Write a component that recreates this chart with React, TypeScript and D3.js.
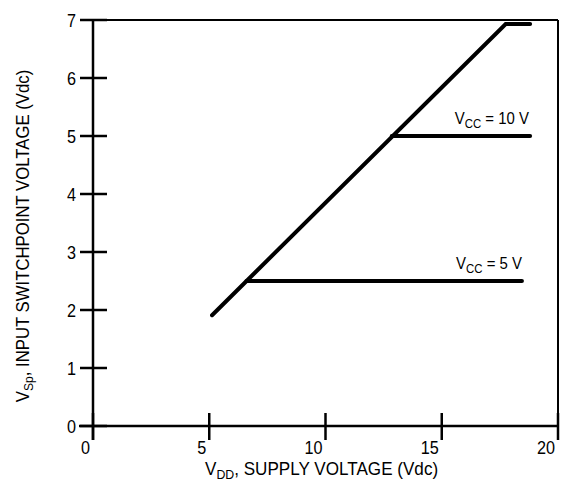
import React from 'react';
import * as d3 from 'd3';

// values
const xTicks = [0, 5, 10, 15, 20];
const yTicks = [0, 1, 2, 3, 4, 5, 6, 7];

// main transfer curve (Vsp follows Vdd until it clamps)
const rampX = [5.12, 17.75, 18.8];
const rampY = [1.91, 6.93, 6.93];

// clamp levels for each Vcc
const vcc10X = [12.85, 18.8];
const vcc10Y = [5.0, 5.0];
const vcc5X = [6.6, 18.45];
const vcc5Y = [2.5, 2.5];

const FONT = '"Liberation Sans", Arial, sans-serif';

// no condensed face installed, so squeeze the regular one horizontally
const Txt = ({ x, y, anchor = 'start', sx = 0.9, rot = 0, size = 18, children }: any) => (
  <g transform={`translate(${x},${y}) rotate(${rot}) scale(${sx},1)`}>
    <text x={0} y={0} textAnchor={anchor} fontSize={size}>
      {children}
    </text>
  </g>
);

const App = () => {
  const width = 561;
  const height = 481;

  const x = d3.scaleLinear().domain([0, 20]).range([93, 558]);
  const y = d3.scaleLinear().domain([0, 7]).range([426, 20]);

  const line = d3
    .line<[number, number]>()
    .x(d => x(d[0]))
    .y(d => y(d[1]));

  const toPts = (xs: number[], ys: number[]): [number, number][] =>
    xs.map((v, i) => [v, ys[i]]);

  const curves = [toPts(rampX, rampY), toPts(vcc10X, vcc10Y), toPts(vcc5X, vcc5Y)];

  return (
    <svg
      width={width}
      height={height}
      style={{ position: 'absolute', left: 0, top: 0, background: '#fff' }}
      fontFamily={FONT}
    >
      {/* frame */}
      <line x1={x(0)} x2={x(20)} y1={y(7)} y2={y(7)} stroke="#000" strokeWidth={2} />
      <line x1={x(20)} x2={x(20)} y1={y(7)} y2={y(0)} stroke="#000" strokeWidth={2} />
      {/* axes */}
      <line x1={x(0)} x2={x(0)} y1={y(7)} y2={y(0) + 14} stroke="#000" strokeWidth={2.5} />
      <line x1={x(0) - 14} x2={x(20)} y1={y(0)} y2={y(0)} stroke="#000" strokeWidth={2.5} />

      {yTicks.map(t => (
        <g key={'y' + t}>
          <line x1={x(0) - 13} x2={x(0) + 14} y1={y(t)} y2={y(t)} stroke="#000" strokeWidth={2.5} />
          <Txt x={x(0) - 17} y={y(t) + 6.5} anchor="end">
            {t}
          </Txt>
        </g>
      ))}

      {xTicks.map(t => (
        <g key={'x' + t}>
          <line x1={x(t)} x2={x(t)} y1={y(0) - 13} y2={y(0) + 14} stroke="#000" strokeWidth={2.5} />
          <Txt x={x(t) - 3} y={y(0) + 28} anchor="end">
            {t}
          </Txt>
        </g>
      ))}

      {curves.map((c, i) => (
        <path
          key={i}
          d={line(c) || ''}
          fill="none"
          stroke="#000"
          strokeWidth={4}
          strokeLinecap="round"
          strokeLinejoin="miter"
        />
      ))}

      <Txt x={x(18.75)} y={y(5) - 12} anchor="end" sx={0.88} size={17}>
        V<tspan fontSize={13} dy={4}>CC</tspan>
        <tspan dy={-4}> = 10 V</tspan>
      </Txt>
      <Txt x={x(18.45)} y={y(2.5) - 12} anchor="end" sx={0.88} size={17}>
        V<tspan fontSize={13} dy={4}>CC</tspan>
        <tspan dy={-4}> = 5 V</tspan>
      </Txt>

      {/* axis titles */}
      <Txt x={205} y={475} sx={0.95}>
        V<tspan fontSize={13} dy={4}>DD</tspan>
        <tspan dy={-4}>, SUPPLY VOLTAGE (Vdc)</tspan>
      </Txt>
      <Txt x={29} y={236} rot={-90} anchor="middle" sx={0.93}>
        V<tspan fontSize={13} dy={4}>Sp</tspan>
        <tspan dy={-4}>, INPUT SWITCHPOINT VOLTAGE (Vdc)</tspan>
      </Txt>
    </svg>
  );
};

export default App;
